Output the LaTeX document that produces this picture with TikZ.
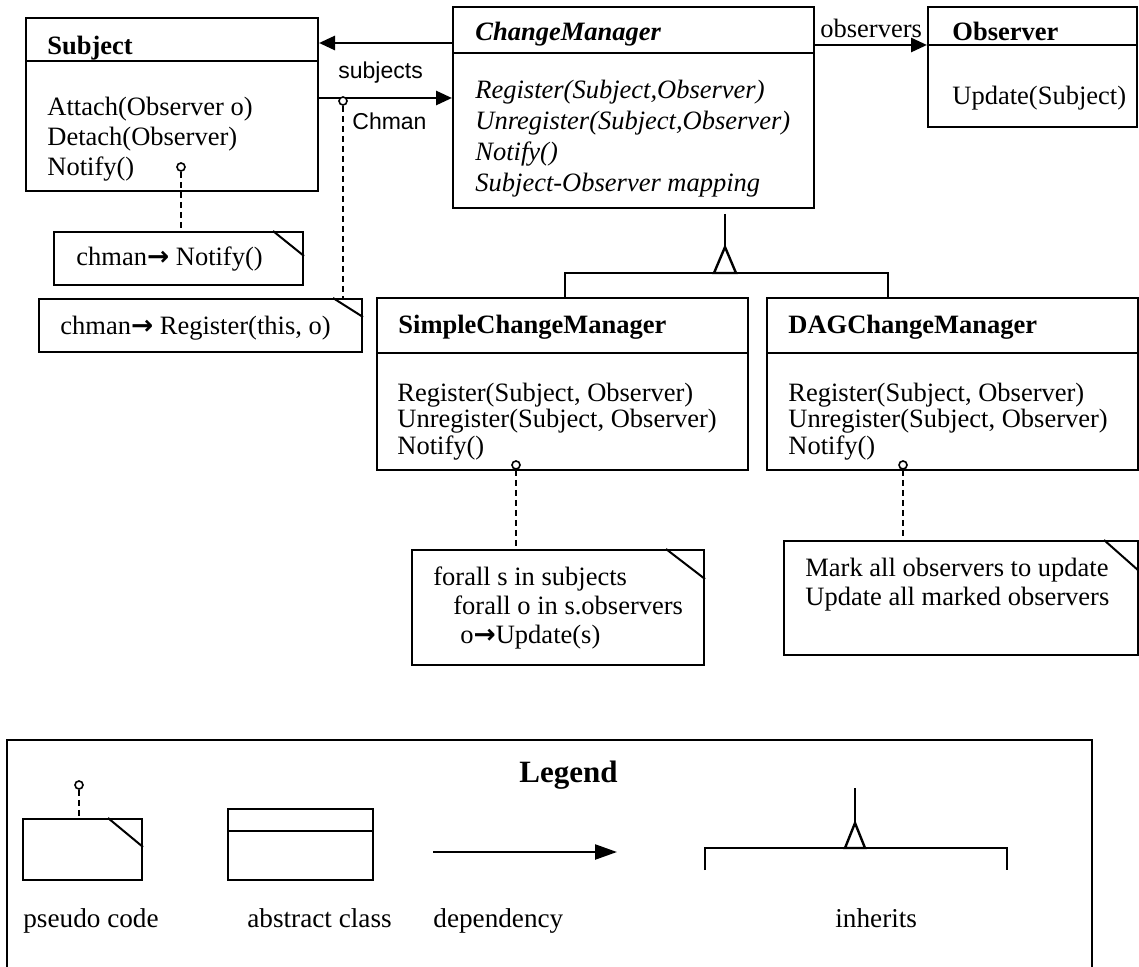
\documentclass[tikz,border=0pt]{standalone}
\usepackage{fontspec}
\setmainfont{Liberation Serif}
\setsansfont{Liberation Sans}
\newfontfamily\symfont{DejaVu Sans}
\usetikzlibrary{arrows.meta,fit}
\newcommand\rarr{{\symfont\bfseries\char"2192}}
\begin{document}
\begin{tikzpicture}[x=0.5pt,y=-0.5pt,
  box/.style={draw, line width=1pt, inner sep=0pt},
  lbl/.style={anchor=base west, inner sep=0pt, font=\fontsize{13.25}{15}\selectfont},
  ttl/.style={anchor=base west, inner sep=0pt, font=\fontsize{13.25}{15}\selectfont\bfseries},
  opi/.style={anchor=base west, inner sep=0pt, font=\fontsize{13.25}{15}\selectfont\itshape},
  sfl/.style={anchor=base west, inner sep=0pt, font=\fontsize{11.5}{13}\selectfont\sffamily},
  leglbl/.style={anchor=base west, inner sep=0pt, font=\fontsize{13.6}{15}\selectfont},
  dep/.style={line width=1.4pt, -{Triangle[length=8pt,width=7pt]}},
  deplg/.style={line width=1.2pt, -{Triangle[length=11pt,width=7.5pt]}},
  tie/.style={line width=1pt, dash pattern=on 3pt off 2pt},
  pin/.style={circle, draw, line width=0.8pt, inner sep=0pt, minimum size=4pt, fill=white},
  inh/.style={line width=1.2pt},
  div/.style={line width=1pt},
  fold/.style={line width=1pt}]
\useasboundingbox (0,0) rectangle (1139,967);

% ---- class boxes ----
\node[box, fit={(26,18) (318,191)}] (subject) {};
\draw[div] (subject.west |- 0,61) -- (subject.east |- 0,61);
\node[ttl] (subjectT) at (47,55) {Subject};
\node[lbl] (subj1) at (47,116) {Attach(Observer o)};
\node[lbl] (subj2) at (47,146) {Detach(Observer)};
\node[lbl] (subj3) at (47,176) {Notify()};

\node[box, fit={(453,7) (814,208)}] (cm) {};
\draw[div] (cm.west |- 0,53) -- (cm.east |- 0,53);
\node[ttl, font=\fontsize{13.25}{15}\selectfont\bfseries\itshape] (cmT) at (475,41) {ChangeManager};
\node[opi] (cm1) at (475,99) {Register(Subject,Observer)};
\node[opi] (cm2) at (475,130) {Unregister(Subject,Observer)};
\node[opi] (cm3) at (475,161) {Notify()};
\node[opi] (cm4) at (475,192) {Subject-Observer mapping};

\node[box, fit={(928,7) (1137,127)}] (observer) {};
\draw[div] (observer.west |- 0,45) -- (observer.east |- 0,45);
\node[ttl] (obsT) at (952,41) {Observer};
\node[lbl] (obs1) at (952,105) {Update(Subject)};

\node[box, fit={(377,298) (748,470)}] (scm) {};
\draw[div] (scm.west |- 0,353) -- (scm.east |- 0,353);
\node[ttl] (scmT) at (398,334) {SimpleChangeManager};
\node[lbl] (scm1) at (397,402) {Register(Subject, Observer)};
\node[lbl] (scm2) at (397,428) {Unregister(Subject, Observer)};
\node[lbl] (scm3) at (397,455) {Notify()};

\node[box, fit={(767,298) (1138,470)}] (dag) {};
\draw[div] (dag.west |- 0,353) -- (dag.east |- 0,353);
\node[ttl] (dagT) at (788,334) {DAGChangeManager};
\node[lbl] (dag1) at (788,402) {Register(Subject, Observer)};
\node[lbl] (dag2) at (788,428) {Unregister(Subject, Observer)};
\node[lbl] (dag3) at (788,455) {Notify()};

% ---- dependencies ----
\draw[dep] (cm.west |- 0,43) -- (subject.east |- 0,43);
\draw[dep] (subject.east |- 0,98) -- (cm.west |- 0,98);
\draw[dep] (cm.east |- 0,45) -- (observer.west |- 0,45);
\node[sfl] (subjectsL) at (338,79) {subjects};
\node[sfl] (chmanL) at (352,130) {Chman};
\node[lbl] (observersL) at (820,38) {observers};

% ---- inheritance ----
\coordinate (tri) at (725,247);
\draw[inh] (cm.south -| tri) ++(0,5) -- (tri);
\draw[inh] (tri) -- ++(-11,26) -- ++(22,0) -- cycle;
\draw[inh] (scm.north -| 565,0) -- (565,273) -- (888,273) -- (dag.north -| 888,0);

% ---- notes ----
\node[box, fit={(54,232) (303,285)}] (note1) {};
\draw[fold] (note1.north east) ++(-31,0) -- ++(31,25);
\node[lbl] (note1T) at (76,266) {chman\rarr{} Notify()};

\node[box, fit={(39,299) (362,352)}] (note2) {};
\draw[fold] (note2.north east) ++(-30,0) -- ++(30,19);
\node[lbl] (note2T) at (60,335) {chman\rarr{} Register(this, o)};

\node[box, fit={(412,550) (704,665)}] (noteS) {};
\draw[fold] (noteS.north east) ++(-39,0) -- ++(39,30);
\node[lbl] (noteS1) at (433,585) {forall s in subjects};
\node[lbl] (noteS2) at (453,614) {forall o in s.observers};
\node[lbl] (noteS3) at (460,643) {o\rarr{}Update(s)};

\node[box, fit={(784,541) (1138,655)}] (noteD) {};
\draw[fold] (noteD.north east) ++(-35,0) -- ++(35,31);
\node[lbl] (noteD1) at (805,576) {Mark all observers to update};
\node[lbl] (noteD2) at (805,605) {Update all marked observers};

% ---- note ties ----
\node[pin] (p1) at (181,167) {};
\draw[tie] (p1) -- (note1.north -| p1);
\node[pin] (p2) at (343,101) {};
\draw[tie] (p2) -- (note2.north -| p2);
\node[pin] (p3) at (516,465) {};
\draw[tie] (p3) -- (noteS.north -| p3);
\node[pin] (p4) at (903,465) {};
\draw[tie] (p4) -- (noteD.north -| p4);

% ---- legend ----
\node[box, fit={(7,740) (1092,968)}] (legend) {};
\node[ttl, font=\fontsize{15.5}{17}\selectfont\bfseries] (legendT) at (519,782) {Legend};

\node[box, fit={(23,819) (142,880)}] (lgnote) {};
\draw[fold] (lgnote.north east) ++(-35,0) -- ++(35,29);
\node[pin] (lgpin) at (79,785) {};
\draw[tie] (lgpin) -- (lgnote.north -| lgpin);
\node[leglbl] (lgnoteT) at (23,927) {pseudo code};

\node[box, fit={(228,809) (373,880)}] (lgclass) {};
\draw[div] (lgclass.west |- 0,831) -- (lgclass.east |- 0,831);
\node[leglbl] (lgclassT) at (247,927) {abstract class};

\coordinate (lgd1) at (433,852);
\coordinate (lgd2) at (617,852);
\draw[deplg] (lgd1) -- (lgd2);
\node[leglbl] (lgdepT) at (433,927) {dependency};

\coordinate (lgtri) at (855,823);
\draw[inh] (lgtri) ++(0,-35) -- (lgtri);
\draw[inh] (lgtri) -- ++(-10,25) -- ++(20,0) -- cycle;
\draw[inh] (705,870) -- (705,848) -- (1007,848) -- (1007,870);
\node[leglbl] (lginhT) at (835,927) {inherits};
\end{tikzpicture}
\end{document}
